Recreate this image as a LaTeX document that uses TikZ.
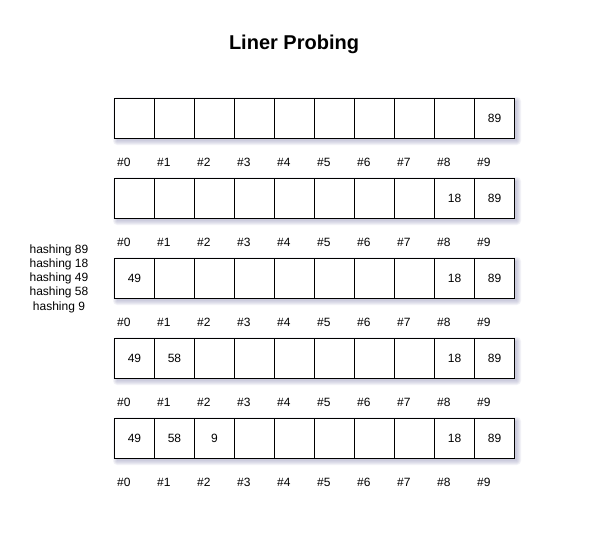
\documentclass[tikz,border=0pt]{standalone}
\usepackage{fontspec}
\setmainfont{Liberation Sans}
\tikzset{
  cellbox/.style={draw=black, line width=1pt, fill=white, minimum width=40pt, minimum height=40pt, inner sep=0pt, font=\fontsize{12}{14}\selectfont, anchor=north west},
  shadelayer/.style={fill=blue!20!gray, fill opacity=0.08, draw=none},
  idxlabel/.style={font=\fontsize{12}{14}\selectfont, anchor=west, inner sep=0pt},
  titletext/.style={font=\bfseries\fontsize{20}{24}\selectfont, inner sep=0pt},
  sidetext/.style={font=\fontsize{12}{14.3}\selectfont, align=center, inner sep=0pt}
}
\begin{document}
\begin{tikzpicture}[x=1pt,y=-1pt]
\useasboundingbox (0,0) rectangle (600,546);
% title
\node[titletext] (title) at (294,44.5) {Liner Probing};
% side text
\node[sidetext] (side) at (59,278.5) {hashing 89\\hashing 18\\hashing 49\\hashing 58\\hashing 9};
% rows
\foreach \r/\top/\vals in {
  1/98/{,,,,,,,,,89},
  2/178/{,,,,,,,,18,89},
  3/258/{49,,,,,,,,18,89},
  4/338/{49,58,,,,,,,18,89},
  5/418/{49,58,9,,,,,,18,89}}{
  \foreach \k in {0,1,2,3,4}{
    \fill[shadelayer, rounded corners=\k pt] (114+3-\k,\top+3-\k) rectangle (514+3+\k,\top+40+3+\k);
  }
  \foreach \v [count=\i from 0] in \vals {
    \node[cellbox] (c\r-\i) at (114+40*\i,\top) {\v};
    \node[idxlabel] (l\r-\i) at (117+40*\i,\top+64) {\#\i};
  }
}
\end{tikzpicture}
\end{document}
